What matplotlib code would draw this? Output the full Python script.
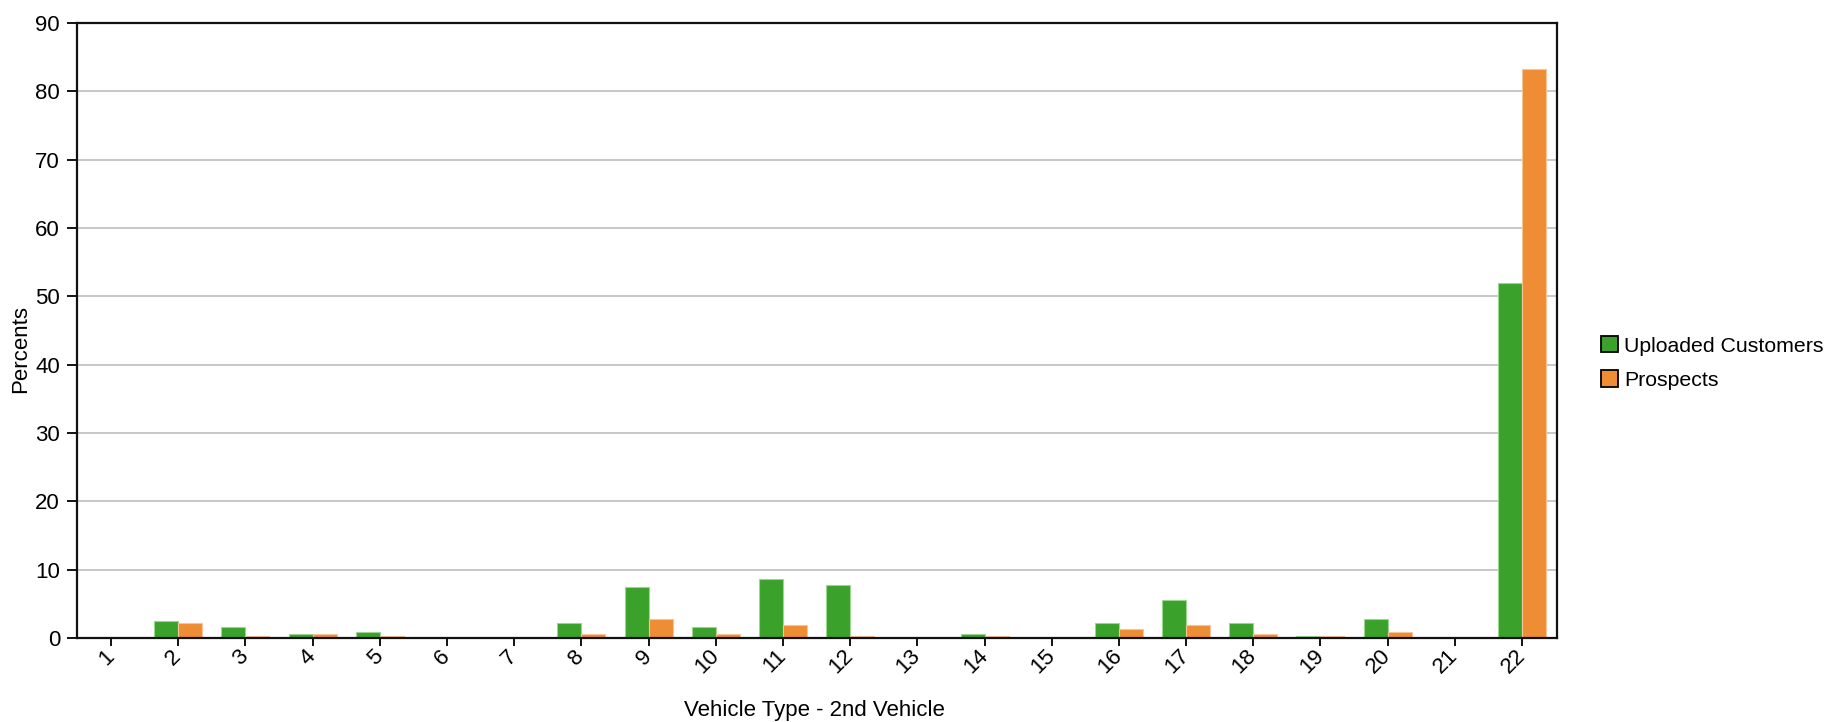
import matplotlib
matplotlib.use("Agg")
import matplotlib.pyplot as plt
import numpy as np
from matplotlib.patches import Patch

# Share of records per vehicle type (2nd vehicle), in percent
categories = [str(i) for i in range(1, 23)]
uploaded_customers = [0, 2.45, 1.55, 0.6, 0.95, 0, 0, 2.15, 7.4, 1.55, 8.6,
                      7.7, 0, 0.6, 0, 2.15, 5.55, 2.15, 0.35, 2.75, 0, 52.0]
prospects = [0, 2.15, 0.3, 0.6, 0.3, 0, 0, 0.6, 2.75, 0.6, 1.85,
             0.3, 0, 0.3, 0, 1.25, 1.85, 0.6, 0.3, 0.95, 0, 83.3]
series_names = ["Uploaded Customers", "Prospects"]
y_ticks = list(range(0, 91, 10))

green = "#3aa12b"
orange = "#ef8d34"
FS = 16
FS_LEG = 15.3

plt.rcParams["font.family"] = ["Liberation Sans", "DejaVu Sans"]

W, H = 1833, 722
fig = plt.figure(figsize=(W / 100, H / 100), dpi=100)
ax = fig.add_axes([77 / W, 1 - 638 / H, (1557 - 77) / W, (638 - 23) / H])

x = np.arange(1, len(categories) + 1)
bw = 0.357
ax.bar(x - bw / 2, uploaded_customers, width=bw, color=green,
       edgecolor="#9bd68f", linewidth=0.8, zorder=2)
ax.bar(x + bw / 2, prospects, width=bw, color=orange,
       edgecolor="#f7c49a", linewidth=0.8, zorder=2)

ax.set_xlim(0.494, 22.52)
ax.set_ylim(0, 90)
ax.set_yticks(y_ticks)
ax.set_xticks(x)
ax.set_xticklabels(categories, rotation=45, ha="right", va="center",
                   rotation_mode="anchor")
ax.tick_params(axis="x", length=5.8, width=1.3, pad=5, labelsize=FS)
ax.tick_params(axis="y", length=7.2, width=1.3, pad=5, labelsize=FS)
ax.yaxis.grid(True, color="#c8c8c8", linewidth=1.4, zorder=0)
ax.set_axisbelow(True)
for s in ax.spines.values():
    s.set_linewidth(1.6)
    s.set_color("#111111")

fig.text(21 / W, 1 - 349 / H, "Percents", rotation=90,
         ha="center", va="center", fontsize=FS)
fig.text(814 / W, 1 - 716 / H, "Vehicle Type - 2nd Vehicle",
         ha="center", va="baseline", fontsize=FS)

handles = [Patch(facecolor=green, edgecolor="black", linewidth=1.3),
           Patch(facecolor=orange, edgecolor="black", linewidth=1.3)]
fig.legend(handles, series_names, loc="center left",
           bbox_to_anchor=(1601 / W, 1 - 363 / H), frameon=False,
           fontsize=FS_LEG, handlelength=0.8, handleheight=0.8,
           handletextpad=0.3, labelspacing=0.7, borderpad=0,
           borderaxespad=0)

fig.savefig("out.png", dpi=100, facecolor="white")
